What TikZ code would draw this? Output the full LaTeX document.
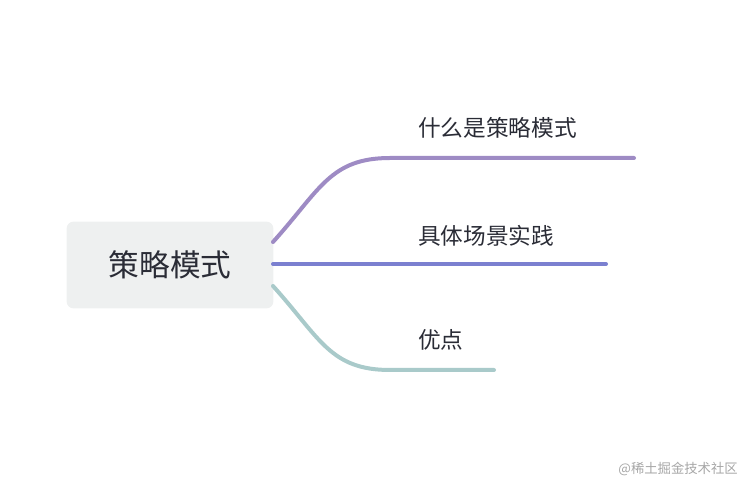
\documentclass[tikz,border=0pt]{standalone}
\usepackage{fontspec}
\newfontfamily\cjk{Noto Sans CJK SC}
\definecolor{rootfill}{HTML}{EEF0F0}
\definecolor{txt}{HTML}{2A2C36}
\definecolor{brone}{HTML}{9E8BC4}
\definecolor{brtwo}{HTML}{7B80D0}
\definecolor{brthree}{HTML}{A9CACA}
\tikzset{
  branch/.style={line width=3pt, line cap=round},
  leaf/.style={anchor=west, text=txt, font=\cjk\fontsize{17}{20}\selectfont, inner sep=0pt}
}
\begin{document}
\begin{tikzpicture}[x=0.75pt,y=-0.75pt]
\useasboundingbox (0,0) rectangle (744,484);
\node [fill=rootfill, rounded corners=5pt, minimum width=155pt, minimum height=65pt,
  text=txt, font=\cjk\fontsize{23}{26}\selectfont] (root) at (170,265) {策略模式};
\coordinate (s1) at (273,242);
\coordinate (s2) at (273,264);
\coordinate (s3) at (273,286);
\coordinate (e1) at (634,158);
\coordinate (e2) at (606,264);
\coordinate (e3) at (494,370);
\draw [branch, brone] (s1) .. controls (320,190) and (330,158) .. (390,158) -- (e1);
\draw [branch, brtwo] (s2) -- (e2);
\draw [branch, brthree] (s3) .. controls (320,338) and (330,370) .. (390,370) -- (e3);
\node [leaf] (l1) at (418,128) {什么是策略模式};
\node [leaf] (l2) at (418,236) {具体场景实践};
\node [leaf] (l3) at (418,340) {优点};
\node [anchor=east, text=gray!70, font=\cjk\fontsize{10}{12}\selectfont, inner sep=0pt] (mark) at (738,469) {@稀土掘金技术社区};
\end{tikzpicture}
\end{document}
